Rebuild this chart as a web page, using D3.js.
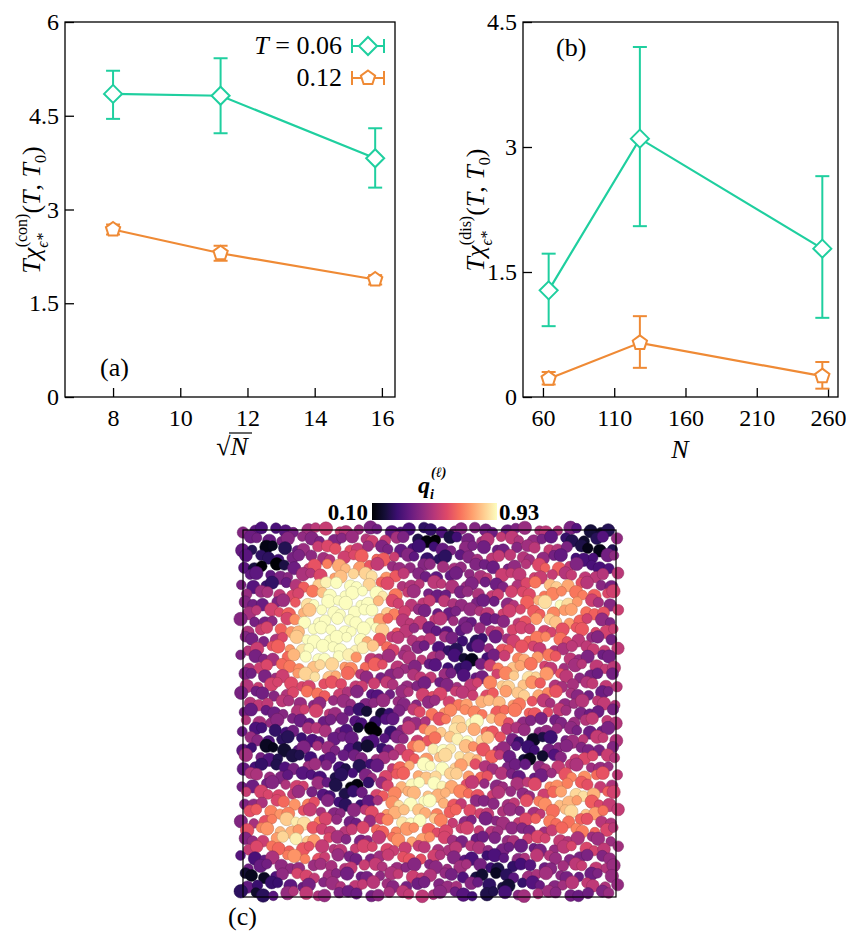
<!DOCTYPE html>
<html><head><meta charset="utf-8">
<script src="https://cdn.jsdelivr.net/npm/d3@7"></script>
<style>body{margin:0;background:#fff}text{font-family:"Liberation Serif","DejaVu Serif",serif}</style>
</head><body><div id="chart"></div>
<script>
// panel (a)
var sqrtN = [8, 11.2, 15.8];
var conHot = [4.85, 4.82, 3.82], conHotLo = [4.45, 4.22, 3.35], conHotHi = [5.22, 5.42, 4.3];
var conCold = [2.68, 2.3, 1.88], conColdLo = [2.6, 2.18, 1.8], conColdHi = [2.76, 2.42, 1.95];
// panel (b)
var Nvals = [64, 128, 256];
var disHot = [1.28, 3.1, 1.78], disHotLo = [0.85, 2.05, 0.95], disHotHi = [1.72, 4.2, 2.65];
var disCold = [0.22, 0.65, 0.25], disColdLo = [0.15, 0.35, 0.1], disColdHi = [0.3, 0.97, 0.42];
var ticksA = [8, 10, 12, 14, 16], ticksAy = [0, 1.5, 3, 4.5, 6];
var ticksB = [60, 110, 160, 210, 260], ticksBy = [0, 1.5, 3, 4.5];
// panel (c): bright / dark regions (fractions of the box)
var hotX = [0.23, 0.2, 0.3, 0.85, 0.74, 0.6, 0.52, 0.45, 0.88, 0.13, 0.3];
var hotY = [0.25, 0.35, 0.16, 0.2, 0.41, 0.54, 0.66, 0.78, 0.74, 0.82, 0.25];
var coldX = [0.93, 0.61, 0.35, 0.28, 0.68, 0.07, 0.77, 0.1, 0.05, 0.5];
var coldY = [0.04, 0.35, 0.54, 0.7, 0.95, 0.08, 0.6, 0.6, 0.95, 0.02];

var green = "#1fcf9f", orange = "#ef8a35";
var svg = d3.select("#chart").append("svg").attr("width", 846).attr("height", 936);

function panel(o) {
  var x = d3.scaleLinear().domain(o.xd).range([o.l, o.r]);
  var y = d3.scaleLinear().domain(o.yd).range([o.b, o.t]);
  var g = svg.append("g");
  g.append("rect").attr("x", o.l).attr("y", o.t).attr("width", o.r - o.l).attr("height", o.b - o.t)
    .attr("fill", "none").attr("stroke", "#000").attr("stroke-width", 1.3);
  g.append("g").attr("transform", `translate(0,${o.b})`)
    .call(d3.axisBottom(x).tickValues(o.xt).tickSize(-9).tickPadding(12).tickFormat(d3.format("")))
    .call(a => a.select(".domain").remove());
  g.append("g").attr("transform", `translate(${o.l},0)`)
    .call(d3.axisLeft(y).tickValues(o.yt).tickSize(-9).tickPadding(6).tickFormat(d => d === 0 ? "0" : d3.format("")(d)))
    .call(a => a.select(".domain").remove());
  g.selectAll(".tick text").style("font-size", "24px").style("font-family", "Liberation Serif, serif");
  g.selectAll(".tick line").attr("stroke-width", 1.3);
  o.series.forEach(function (s) {
    var pts = o.xs.map((v, i) => [x(v), y(s.v[i]), y(s.lo[i]), y(s.hi[i])]);
    g.append("path").attr("d", d3.line()(pts.map(p => [p[0], p[1]])))
      .attr("fill", "none").attr("stroke", s.c).attr("stroke-width", 2.2);
    pts.forEach(function (p) {
      g.append("line").attr("x1", p[0]).attr("x2", p[0]).attr("y1", p[2]).attr("y2", p[3]).attr("stroke", s.c).attr("stroke-width", 2);
      [p[2], p[3]].forEach(yy => g.append("line").attr("x1", p[0] - 7).attr("x2", p[0] + 7).attr("y1", yy).attr("y2", yy).attr("stroke", s.c).attr("stroke-width", 2));
      marker(g, p[0], p[1], s);
    });
  });
  return g;
}
function marker(g, cx, cy, s) {
  if (s.m === "d") {
    var r = 9;
    g.append("polygon").attr("points", [[cx, cy - r], [cx + r, cy], [cx, cy + r], [cx - r, cy]].join(" "))
      .attr("fill", "#fff").attr("stroke", s.c).attr("stroke-width", 2);
  } else {
    var r = 7.5, pts = d3.range(5).map(k => [cx + r * Math.sin(k * 2 * Math.PI / 5), cy - r * Math.cos(k * 2 * Math.PI / 5)]);
    g.append("polygon").attr("points", pts.join(" ")).attr("fill", "#fff").attr("stroke", s.c).attr("stroke-width", 2);
  }
}

var ga = panel({l: 65, r: 395, t: 22, b: 397, xd: [6.57, 16.39], yd: [0, 6], xt: ticksA, yt: ticksAy, xs: sqrtN,
  series: [{v: conHot, lo: conHotLo, hi: conHotHi, c: green, m: "d"}, {v: conCold, lo: conColdLo, hi: conColdHi, c: orange, m: "p"}]});
var gb = panel({l: 523, r: 838, t: 22, b: 397, xd: [46, 267], yd: [0, 4.5], xt: ticksB, yt: ticksBy, xs: Nvals,
  series: [{v: disHot, lo: disHotLo, hi: disHotHi, c: green, m: "d"}, {v: disCold, lo: disColdLo, hi: disColdHi, c: orange, m: "p"}]});

// legend
[[46, green, "d", "T = 0.06"], [78, orange, "p", "0.12"]].forEach(function (d) {
  var s = {c: d[1], m: d[2]};
  ga.append("line").attr("x1", 352).attr("x2", 384).attr("y1", d[0]).attr("y2", d[0]).attr("stroke", d[1]).attr("stroke-width", 2);
  [352, 384].forEach(xx => ga.append("line").attr("x1", xx).attr("x2", xx).attr("y1", d[0] - 7).attr("y2", d[0] + 7).attr("stroke", d[1]).attr("stroke-width", 2));
  marker(ga, 368, d[0], s);
  var t = ga.append("text").attr("x", 342).attr("y", d[0] + 8).attr("text-anchor", "end").style("font-size", "26px");
  if (d[3] === "0.12") t.text("0.12");
  else { t.append("tspan").style("font-style", "italic").text("T"); t.append("tspan").text(" = 0.06"); }
});
ga.append("text").attr("x", 100).attr("y", 376).style("font-size", "26px").text("(a)");
gb.append("text").attr("x", 556).attr("y", 56).style("font-size", "26px").text("(b)");

// axis titles
function xTitle(g, x, y, kind) {
  var t = g.append("text").attr("x", x).attr("y", y).attr("text-anchor", "middle").style("font-size", "26px").style("font-style", "italic");
  if (kind === "sqrt") {
    t.append("tspan").style("font-style", "normal").text("√");
    t.append("tspan").text("N");
    g.append("line").attr("x1", x - 3).attr("x2", x + 20).attr("y1", y - 22).attr("y2", y - 22).attr("stroke", "#000").attr("stroke-width", 1.2);
  } else t.text("N");
}
xTitle(ga, 232, 455, "sqrt");
xTitle(gb, 680, 458, "N");
function yTitle(g, x, y, sup) {
  var t = g.append("text").attr("transform", `translate(${x},${y}) rotate(-90)`).attr("text-anchor", "middle").style("font-size", "26px");
  t.append("tspan").style("font-style", "italic").text("Tχ");
  t.append("tspan").attr("dy", 8).style("font-size", "16px").style("font-style", "italic").text("ϵ*");
  t.append("tspan").attr("dx", -14).attr("dy", -21).style("font-size", "16px").text("(" + sup + ")");
  t.append("tspan").attr("dy", 13).text("(");
  t.append("tspan").style("font-style", "italic").text("T");
  t.append("tspan").text(", ");
  t.append("tspan").style("font-style", "italic").text("T");
  t.append("tspan").attr("dy", 6).style("font-size", "16px").text("0");
  t.append("tspan").attr("dy", -6).text(")");
}
yTitle(ga, 40, 210, "con");
yTitle(gb, 484, 210, "dis");

// panel (c)
var box = {l: 243, r: 616, t: 530, b: 897};
var color = d3.scaleSequential(d3.interpolateMagma).domain([0.1, 0.93]);
var gc = svg.append("g");
var W = box.r - box.l, H = box.b - box.t, d0 = 10.5;
var parts = [];
for (var row = 0; row * d0 * 0.866 <= H; row++) {
  for (var col = 0; col * d0 <= W; col++) {
    var fx = (col * d0 + (row % 2 ? d0 / 2 : 0) + 2.5 * Math.sin(row * 1.7 + col * 2.3)) / W;
    var fy = (row * d0 * 0.866 + 2.5 * Math.cos(row * 2.9 + col * 1.3)) / H;
    if (fx > 1.01) continue;
    var v = 0.45;
    hotX.forEach((hx, k) => { var dd = (fx - hx) ** 2 + (fy - hotY[k]) ** 2; v += 0.4 * Math.exp(-dd / 0.009); });
    coldX.forEach((cx, k) => { var dd = (fx - cx) ** 2 + (fy - coldY[k]) ** 2; v -= 0.3 * Math.exp(-dd / 0.005); });
    v += 0.09 * Math.sin(row * 3.1 + col * 5.7);
    parts.push({x: box.l + fx * W, y: box.t + fy * H, v: Math.max(0.1, Math.min(0.93, v)), r: 5.8 + 1.0 * Math.sin(row * 7.1 + col * 3.3)});
  }
}
gc.selectAll("circle").data(parts).enter().append("circle")
  .attr("cx", d => d.x).attr("cy", d => d.y).attr("r", d => d.r)
  .attr("fill", d => color(d.v)).attr("stroke", d => d3.color(color(d.v)).darker(0.8)).attr("stroke-width", 0.5);
gc.append("rect").attr("x", box.l).attr("y", box.t).attr("width", W).attr("height", H)
  .attr("fill", "none").attr("stroke", "#000").attr("stroke-width", 1.2);
gc.append("text").attr("x", 228).attr("y", 925).style("font-size", "26px").text("(c)");

// colorbar
var defs = svg.append("defs");
var grad = defs.append("linearGradient").attr("id", "mg");
d3.range(0, 1.01, 0.1).forEach(t => grad.append("stop").attr("offset", t).attr("stop-color", d3.interpolateMagma(t)));
svg.append("rect").attr("x", 372).attr("y", 503).attr("width", 125).attr("height", 17).attr("fill", "url(#mg)");
svg.append("text").attr("x", 368).attr("y", 520).attr("text-anchor", "end").style("font-size", "23px").style("font-weight", "bold").text("0.10");
svg.append("text").attr("x", 499).attr("y", 520).style("font-size", "23px").style("font-weight", "bold").text("0.93");
var qt = svg.append("text").attr("x", 418).attr("y", 493).style("font-size", "24px").style("font-weight", "bold").style("font-style", "italic");
qt.append("tspan").text("q");
qt.append("tspan").attr("dy", 6).style("font-size", "14px").text("i");
qt.append("tspan").attr("x", 431).attr("dy", -22).style("font-size", "14px").text("(ℓ)");
</script></body></html>
